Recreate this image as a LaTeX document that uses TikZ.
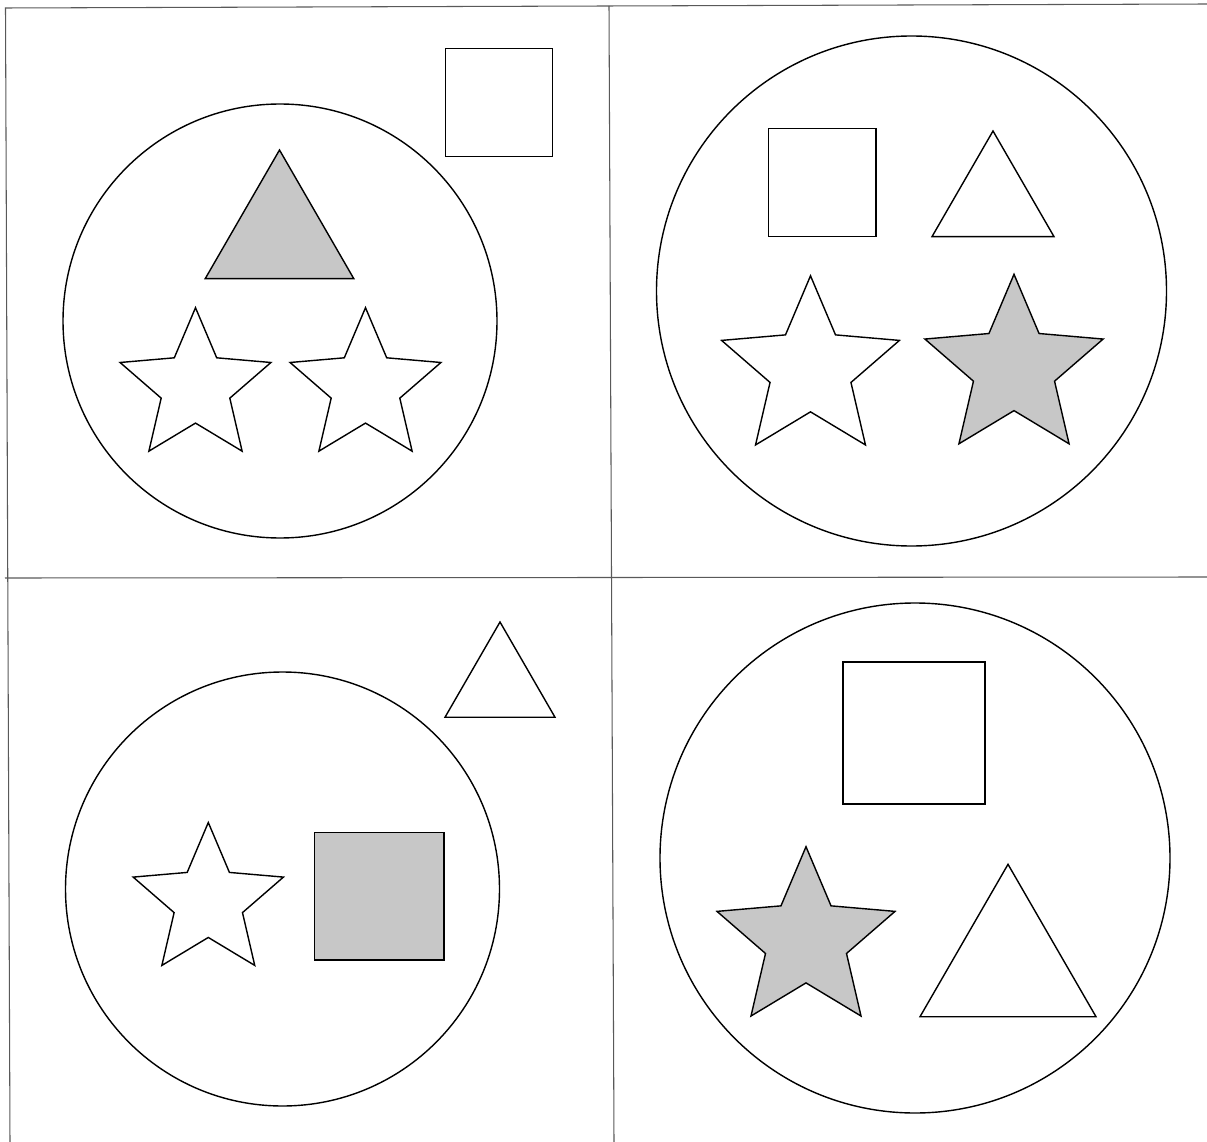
\documentclass[tikz,border=0pt]{standalone}
\begin{document}
\begin{tikzpicture}[x=0.02cm,y=-0.02cm,
  shapeline/.style={draw=black,line width=0.8pt,line join=miter},
  framerule/.style={draw=black!65,line width=0.6pt},
  shaded/.style={shapeline,fill=black!22}]
\useasboundingbox (0,0) rectangle (1207,1142);
\newcommand\mystar[4]{%
  \path[#1,shift={(#2,#3)}] (-90:#4) -- (-54:{0.455*#4}) -- (-18:#4) -- (18:{0.455*#4})
    -- (54:#4) -- (90:{0.455*#4}) -- (126:#4) -- (162:{0.455*#4}) -- (198:#4)
    -- (234:{0.455*#4}) -- cycle;}
\newcommand\mytri[4]{% opts, apex x, apex y, base width
  \path[#1] (#2,#3) -- ++({#4/2},{0.866*#4}) -- ++({-#4},0) -- cycle;}
% frame
\draw[framerule] (5,8) -- (1207,4);
\draw[framerule] (5.5,8) -- (10,1142);
\draw[framerule] (609,6) -- (614,1142);
\draw[framerule] (5,578) -- (1207,577);
% top-left panel
\draw[shapeline] (280,321) circle[radius=217];
\draw[shapeline] (445.5,48.5) rectangle (552.5,156.5);
\mytri{shaded}{279.5}{150}{148.6}
\mystar{shapeline}{195.5}{387}{79.3}
\mystar{shapeline}{365.5}{387}{79.3}
% top-right panel
\draw[shapeline] (911.5,291) circle[radius=255];
\draw[shapeline] (768.3,128.3) rectangle (876,236.5);
\mytri{shapeline}{993}{131}{122}
\mystar{shapeline}{810.5}{369.3}{93.5}
\mystar{shaded}{1014}{368}{93.7}
% bottom-left panel
\mytri{shapeline}{500}{622}{110}
\draw[shapeline] (282.5,889) circle[radius=217];
\mystar{shapeline}{208.3}{901.5}{79}
\draw[shaded] (314.3,832.3) rectangle (444,960);
% bottom-right panel
\draw[shapeline] (915,858) circle[radius=255];
\draw[shapeline] (843,662) rectangle (985,804);
\mystar{shaded}{806}{940.3}{93.6}
\mytri{shapeline}{1008}{864.3}{176}
\end{tikzpicture}
\end{document}
